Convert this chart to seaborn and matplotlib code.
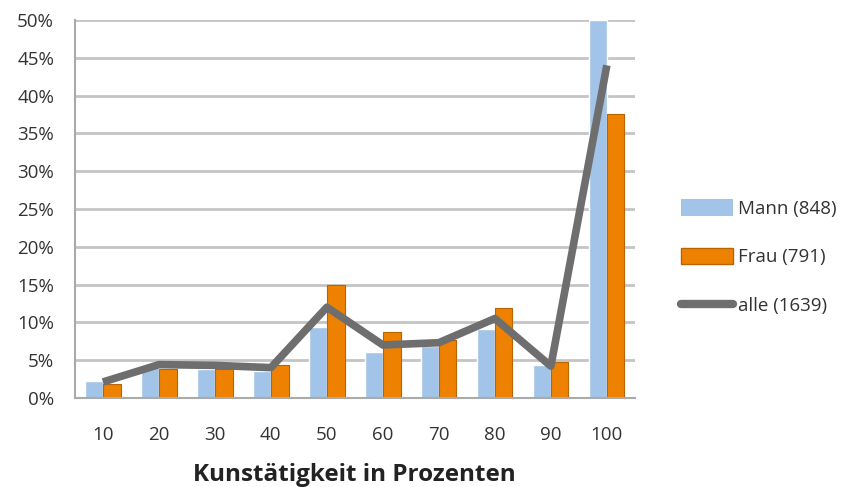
import numpy as np
import pandas as pd
import matplotlib
matplotlib.use("Agg")
import matplotlib.pyplot as plt
import seaborn as sns
from matplotlib.patches import Patch
from matplotlib.lines import Line2D
from matplotlib.ticker import PercentFormatter

# Data (percent)
categories = ["10", "20", "30", "40", "50", "60", "70", "80", "90", "100"]
mann = [2.2, 4.3, 3.8, 3.6, 9.4, 6.1, 6.8, 9.1, 4.3, 50.0]
frau = [1.9, 3.8, 3.8, 4.3, 15.0, 8.7, 7.6, 11.9, 4.7, 37.5]
alle = [2.1, 4.4, 4.3, 4.0, 12.0, 7.0, 7.3, 10.5, 4.2, 44.0]
series_names = ["Mann (848)", "Frau (791)"]
line_name = "alle (1639)"

COLOR_MANN = '#a2c4e8'
COLOR_FRAU = '#ee8200'
COLOR_ALLE = '#6e6e6e'
COLOR_GRID = '#c4c4c4'

sns.set_style("white")
plt.rcParams['font.family'] = ['Open Sans', 'DejaVu Sans']
plt.rcParams['text.color'] = '#333333'

df = pd.DataFrame({
    "cat": categories * 2,
    "val": mann + frau,
    "series": [series_names[0]] * len(categories) + [series_names[1]] * len(categories),
})

fig = plt.figure(figsize=(8.51, 4.87), dpi=100)
ax = fig.add_axes([0.088, 0.183, 0.658, 0.776])

sns.barplot(data=df, x="cat", y="val", hue="series", order=categories,
            palette=[COLOR_MANN, COLOR_FRAU], width=0.63, ax=ax, legend=False,
            saturation=1)
# orange bars get a darker edge like the original
for bar in ax.patches[len(categories):]:
    bar.set_edgecolor('#b86400')
    bar.set_linewidth(0.8)

sns.lineplot(x=categories, y=alle, color=COLOR_ALLE, linewidth=5.5, ax=ax,
             sort=False, solid_capstyle='butt')

ax.set_xlim(-0.5, len(categories) - 0.5)
ax.set_ylim(0, 50)
ax.set_yticks(np.arange(0, 51, 5))
ax.yaxis.set_major_formatter(PercentFormatter(decimals=0))
ax.grid(axis='y', color=COLOR_GRID, linewidth=2)
ax.set_axisbelow(True)

# category boundary ticks on the x axis
ax.set_xticks(np.arange(len(categories)))
ax.set_xticks(np.arange(-0.5, len(categories)), minor=True)
ax.tick_params(axis='x', which='major', length=0, pad=20, labelsize=13.5)
ax.tick_params(axis='x', which='minor', length=5, width=1.2, color='#aaaaaa')
ax.tick_params(axis='y', length=7, width=1.2, color='#aaaaaa', labelsize=13.5, pad=8)
ax.tick_params(axis='both', labelcolor='#333333')

for side in ['top', 'right']:
    ax.spines[side].set_visible(False)
ax.spines['left'].set_color('#aaaaaa')
ax.spines['bottom'].set_color('#aaaaaa')
ax.spines['left'].set_linewidth(1.5)
ax.spines['bottom'].set_linewidth(1.5)

ax.set_ylabel("")
ax.set_xlabel("Kunstätigkeit in Prozenten", fontsize=17.5, fontweight='bold',
              labelpad=14, color='#222222')

handles = [Patch(facecolor=COLOR_MANN, edgecolor='none'),
           Patch(facecolor=COLOR_FRAU, edgecolor='#b86400'),
           Line2D([0], [0], color=COLOR_ALLE, linewidth=6, solid_capstyle='round')]
fig.legend(handles, series_names + [line_name], loc='center left',
           bbox_to_anchor=(0.789, 0.472), frameon=False, fontsize=13.5,
           borderpad=0, handlelength=2.8, handleheight=0.95, handletextpad=0.25,
           labelspacing=1.6)

fig.savefig("out.png", dpi=100, facecolor='white')
